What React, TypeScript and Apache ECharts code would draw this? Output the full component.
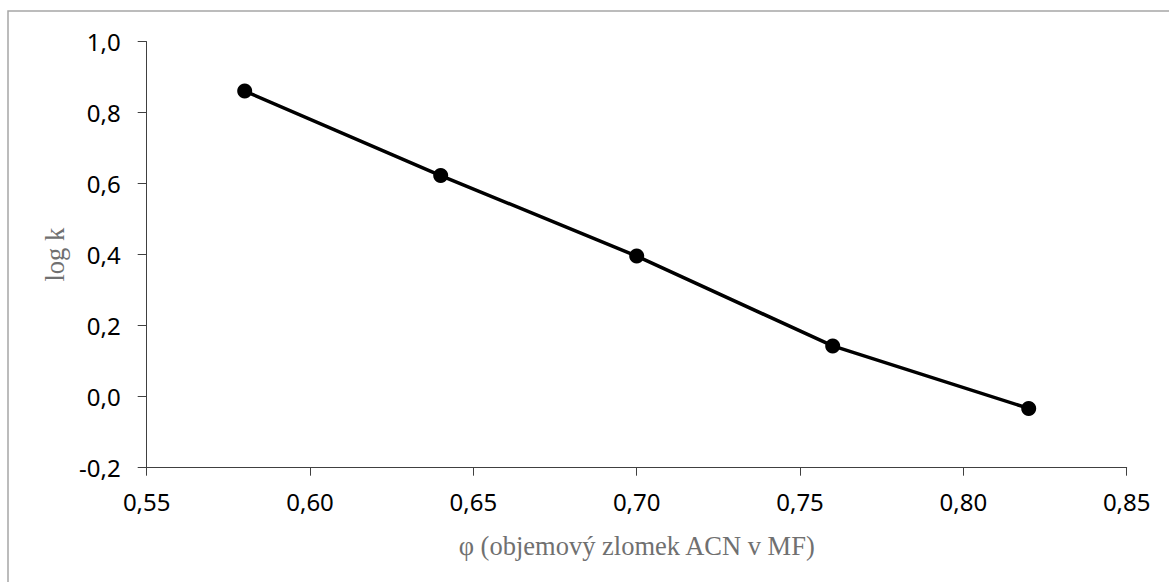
import React, { useEffect, useRef } from "react";
import * as echarts from "echarts";

const phi = [0.58, 0.64, 0.7, 0.76, 0.82];
const logK = [0.861, 0.623, 0.396, 0.143, -0.033];
const xTitle = "φ (objemový zlomek ACN v MF)";
const yTitle = "log k";

export default function App() {
  const ref = useRef<HTMLDivElement>(null);
  useEffect(() => {
    if (!ref.current) return;
    const chart = echarts.init(ref.current, null, { renderer: "svg" });
    const tickFont = {
      fontFamily: "Noto Sans",
      fontSize: 24,
      color: "#000",
    };
    const titleFont = {
      fontFamily: "Liberation Serif",
      fontSize: 26.5,
      color: "#707070",
    };
    chart.setOption({
      animation: false,
      backgroundColor: "#fff",
      graphic: [
        {
          type: "rect",
          shape: { x: 8, y: 11, width: 1300, height: 700 },
          style: { fill: "none", stroke: "#a6a6a6", lineWidth: 1.5 },
          silent: true,
        },
      ],
      grid: { left: 146.7, right: 42.3, top: 41.7, bottom: 114.3 },
      xAxis: {
        type: "value",
        min: 0.55,
        max: 0.85,
        interval: 0.05,
        name: xTitle,
        nameLocation: "middle",
        nameGap: 65,
        nameTextStyle: titleFont,
        axisLine: { show: true, onZero: false, lineStyle: { color: "#404040", width: 1 } },
        axisTick: { show: true, length: 8, lineStyle: { color: "#404040" } },
        splitLine: { show: false },
        axisLabel: {
          ...tickFont,
          margin: 22,
          formatter: (v: number) => v.toFixed(2).replace(".", ","),
        },
      },
      yAxis: {
        type: "value",
        min: -0.2,
        max: 1.0,
        interval: 0.2,
        name: yTitle,
        nameLocation: "middle",
        nameGap: 78,
        nameTextStyle: titleFont,
        axisLine: { show: true, onZero: false, lineStyle: { color: "#404040", width: 1 } },
        axisTick: { show: true, inside: false, length: 9, lineStyle: { color: "#404040" } },
        splitLine: { show: false },
        axisLabel: {
          ...tickFont,
          margin: 26,
          formatter: (v: number) => v.toFixed(1).replace(".", ","),
        },
      },
      series: [
        {
          type: "line",
          data: phi.map((x, i) => [x, logK[i]]),
          symbol: "circle",
          symbolSize: 15,
          showSymbol: true,
          lineStyle: { color: "#000", width: 3.5 },
          itemStyle: { color: "#000" },
        },
      ],
    });
    return () => chart.dispose();
  }, []);
  return (
    <div
      ref={ref}
      style={{ position: "fixed", left: 0, top: 0, width: 1169, height: 582 }}
    />
  );
}
